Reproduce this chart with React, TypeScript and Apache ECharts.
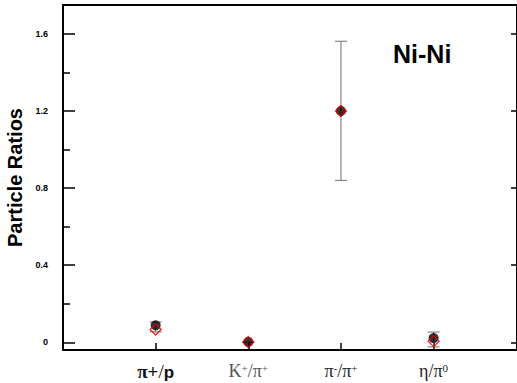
import React, { useEffect, useRef } from "react";
import * as echarts from "echarts";

const categories = ["π+/p", "K+/π+", "π-/π+", "η/π0"];
const catPositions = [1, 2, 3, 4];
const circleValues = [0.088, 0.002, 1.2, 0.022];
const diamondValues = [0.066, 0.002, 1.2, 0.006];
const errLow = [0.054, 0.0, 0.84, -0.024];
const errHigh = [0.105, 0.0, 1.562, 0.053];
const yMajorTicks = [0, 0.4, 0.8, 1.2, 1.6];
const yMinorTicks = [0.2, 0.6, 1.0, 1.4];

const labelRich: Record<string, string> = {
  "π+/p": "{b|π+}{n|/}{bp|p}",
  "K+/π+": "{g|K}{gs|+}{g|/π}{gs|+}",
  "π-/π+": "{s|π}{ss|-}{s|/π}{ss|+}",
  "η/π0": "{s|η/π}{ss|0}",
};

export default function App() {
  const ref = useRef<HTMLDivElement>(null);
  useEffect(() => {
    if (!ref.current) return;
    const chart = echarts.init(ref.current, undefined, { renderer: "svg" });
    const yMin = -0.04;
    const yMax = 1.75;
    const errData = catPositions.map((x, i) => [x, errLow[i], errHigh[i]]);
    const serif = "'Liberation Serif', 'Times New Roman', serif";
    const sans = "'Liberation Sans', Arial, sans-serif";
    chart.setOption({
      animation: false,
      backgroundColor: "#ffffff",
      grid: { left: 63, right: 0, top: 5, bottom: 33, outerBoundsMode: "none" },
      xAxis: [
        {
          type: "value",
          position: "bottom",
          min: 0,
          max: 4.9,
          splitLine: { show: false },
          axisLine: { show: true, onZero: false, lineStyle: { color: "#000", width: 2 } },
          axisTick: { show: true, inside: true, length: 7, lineStyle: { color: "#000", width: 1.5 }, customValues: catPositions },
          axisLabel: {
            show: true,
            margin: 12,
            customValues: catPositions,
            formatter: (v: number) => {
              const idx = catPositions.indexOf(Math.round(v));
              return idx >= 0 ? labelRich[categories[idx]] : "";
            },
            rich: {
              b: { fontFamily: serif, fontWeight: "bold", fontSize: 19, color: "#111", verticalAlign: "bottom" },
              n: { fontFamily: serif, fontSize: 19, color: "#111", verticalAlign: "bottom" },
              bp: { fontFamily: sans, fontWeight: "bold", fontSize: 17, color: "#111", verticalAlign: "bottom" },
              g: { fontFamily: serif, fontSize: 18, color: "#555", verticalAlign: "bottom" },
              gs: { fontFamily: serif, fontSize: 11, color: "#555", verticalAlign: "top" },
              s: { fontFamily: serif, fontSize: 18, color: "#222", verticalAlign: "bottom" },
              ss: { fontFamily: serif, fontSize: 11, color: "#222", verticalAlign: "top" },
            },
          },
        },
        {
          type: "value",
          position: "top",
          min: 0,
          max: 4.9,
          splitLine: { show: false },
          axisLine: { show: true, onZero: false, lineStyle: { color: "#000", width: 2 } },
          axisTick: { show: false },
          axisLabel: { show: false },
        },
      ],
      yAxis: [
        {
          type: "value",
          position: "left",
          min: yMin,
          max: yMax,
          name: "Particle Ratios",
          nameLocation: "middle",
          nameRotate: 90,
          nameGap: 31,
          nameTextStyle: { fontFamily: sans, fontWeight: "bold", fontSize: 20, color: "#000" },
          splitLine: { show: false },
          axisLine: { show: true, onZero: false, lineStyle: { color: "#000", width: 2 } },
          axisTick: { show: true, inside: true, length: 12, lineStyle: { color: "#000", width: 1.5 }, customValues: yMajorTicks },
          axisLabel: {
            show: true,
            margin: 15,
            customValues: yMajorTicks,
            formatter: (v: number) => (Math.abs(v) < 1e-9 ? "0" : v.toFixed(1)),
            fontFamily: sans,
            fontWeight: "bold",
            fontSize: 9,
            color: "#000",
          },
        },
        {
          type: "value",
          position: "left",
          min: yMin,
          max: yMax,
          splitLine: { show: false },
          axisLine: { show: false },
          axisTick: { show: true, inside: true, length: 7, lineStyle: { color: "#000", width: 1.5 }, customValues: yMinorTicks },
          axisLabel: { show: false },
        },
        {
          type: "value",
          position: "right",
          min: yMin,
          max: yMax,
          splitLine: { show: false },
          axisLine: { show: true, onZero: false, lineStyle: { color: "#000", width: 2 } },
          axisTick: { show: true, inside: true, length: 6, lineStyle: { color: "#000", width: 1.5 }, customValues: yMajorTicks },
          axisLabel: { show: false },
        },
      ],
      graphic: [
        {
          type: "text",
          left: 393,
          top: 41,
          style: { text: "Ni-Ni", fontFamily: sans, fontWeight: "bold", fontSize: 25, fill: "#000" },
        },
      ],
      series: [
        {
          type: "custom",
          xAxisIndex: 0,
          yAxisIndex: 0,
          data: errData,
          renderItem: (params: any, api: any) => {
            const x = api.value(0);
            const lo = api.coord([x, api.value(1)]);
            const hi = api.coord([x, api.value(2)]);
            const w = 6;
            const style = { stroke: "#707070", lineWidth: 1 };
            return {
              type: "group",
              children: [
                { type: "line", shape: { x1: lo[0], y1: lo[1], x2: hi[0], y2: hi[1] }, style },
                { type: "line", shape: { x1: lo[0] - w, y1: lo[1], x2: lo[0] + w, y2: lo[1] }, style },
                { type: "line", shape: { x1: hi[0] - w, y1: hi[1], x2: hi[0] + w, y2: hi[1] }, style },
              ],
            };
          },
          z: 2,
        },
        {
          type: "scatter",
          xAxisIndex: 0,
          yAxisIndex: 0,
          symbol: "circle",
          symbolSize: 10,
          itemStyle: { color: "#000" },
          data: catPositions.map((x, i) => [x, circleValues[i]]),
          z: 3,
        },
        {
          type: "scatter",
          xAxisIndex: 0,
          yAxisIndex: 0,
          symbol: "diamond",
          symbolSize: 11,
          itemStyle: { color: "rgba(0,0,0,0)", borderColor: "#e00000", borderWidth: 1.4 },
          data: catPositions.map((x, i) => [x, diamondValues[i]]),
          z: 4,
        },
      ],
    });
    return () => chart.dispose();
  }, []);
  return (
    <div
      ref={ref}
      style={{ position: "fixed", left: 0, top: 0, width: 517, height: 383 }}
    />
  );
}
